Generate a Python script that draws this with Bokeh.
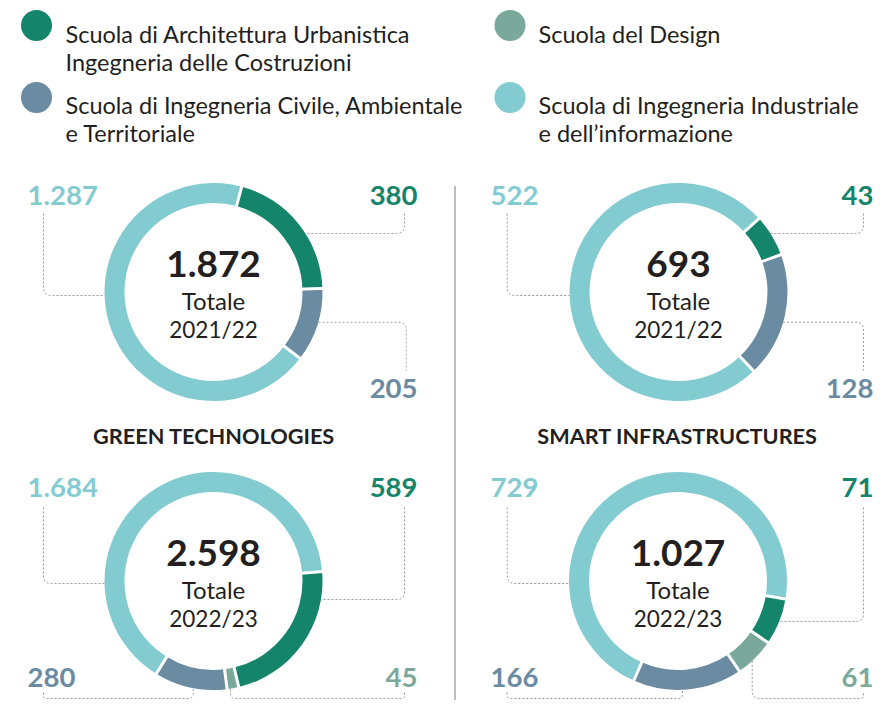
import math
from bokeh.plotting import figure
from bokeh.models import Range1d
from bokeh.core.properties import value
from bokeh.embed import file_html
from bokeh.resources import INLINE

# ---------------- data ----------------
schools = [
    ["Scuola di Architettura Urbanistica", "Ingegneria delle Costruzioni"],
    ["Scuola del Design"],
    ["Scuola di Ingegneria Civile, Ambientale", "e Territoriale"],
    ["Scuola di Ingegneria Industriale", "e dell\u2019informazione"],
]
colors = ["#14846A", "#7AA99C", "#6A8BA1", "#82CBD1"]

programs = ["GREEN TECHNOLOGIES", "SMART INFRASTRUCTURES"]
years = ["2021/22", "2022/23"]
total_label = "Totale"
gt_2122 = [380, 0, 205, 1287]
gt_2223 = [589, 45, 280, 1684]
si_2122 = [43, 0, 128, 522]
si_2223 = [71, 61, 166, 729]

FONT = "Lato"
DARK = "#231F20"
LEAD = "#9A9A9A"

W, H = 874, 700
p = figure(width=W, height=H, output_backend="svg", toolbar_location=None,
           x_range=Range1d(0, W), y_range=Range1d(716 - H, 716),
           min_border=0, outline_line_color=None)
p.axis.visible = False
p.grid.visible = False
p.background_fill_color = "white"
p.border_fill_color = "white"


def Y(py):
    return 716 - py


def fmt(n):
    return f"{n:,}".replace(",", ".")


def rounded(pts, r=8, n=8):
    xs, ys = [pts[0][0]], [pts[0][1]]
    for i in range(1, len(pts) - 1):
        ax, ay = pts[i - 1]
        bx, by = pts[i]
        cx, cy = pts[i + 1]
        la = math.hypot(ax - bx, ay - by)
        lc = math.hypot(cx - bx, cy - by)
        rr = min(r, la / 2, lc / 2)
        p1 = (bx + (ax - bx) / la * rr, by + (ay - by) / la * rr)
        p2 = (bx + (cx - bx) / lc * rr, by + (cy - by) / lc * rr)
        for k in range(n + 1):
            t = k / n
            x = (1 - t) ** 2 * p1[0] + 2 * (1 - t) * t * bx + t ** 2 * p2[0]
            y = (1 - t) ** 2 * p1[1] + 2 * (1 - t) * t * by + t ** 2 * p2[1]
            xs.append(x)
            ys.append(y)
    xs.append(pts[-1][0])
    ys.append(pts[-1][1])
    return xs, [Y(v) for v in ys]


def leader(pts):
    xs, ys = rounded(pts)
    p.line(xs, ys, line_color=LEAD, line_width=1, line_dash="2 2")


def txt(x, py, s, size, color=DARK, bold=False, align="center", baseline="middle"):
    p.text(x=[x], y=[Y(py)], text=[s], text_font=value(FONT),
           text_font_size=f"{size}px", text_color=color,
           text_font_style="bold" if bold else "normal",
           text_align=align, text_baseline=baseline)


R_IN, R_OUT = 89, 109


def donut(cx, cy, vals, start_deg, year):
    total = sum(vals)
    th = start_deg
    bounds = []
    for v, c in zip(vals, colors):
        if v == 0:
            continue
        sweep = v / total * 360.0
        a0 = math.radians(90 - th)
        a1 = math.radians(90 - (th + sweep))
        p.annular_wedge(x=[cx], y=[Y(cy)], inner_radius=R_IN, outer_radius=R_OUT,
                        start_angle=a0, end_angle=a1, direction="clock",
                        fill_color=c, line_color=None)
        bounds.append(th)
        th += sweep
    for b in bounds:
        a = math.radians(90 - b)
        p.segment(x0=[cx + (R_IN - 4) * math.cos(a)], y0=[Y(cy) + (R_IN - 4) * math.sin(a)],
                  x1=[cx + (R_OUT + 4) * math.cos(a)], y1=[Y(cy) + (R_OUT + 4) * math.sin(a)],
                  line_color="white", line_width=3)
    txt(cx, cy - 28, fmt(total), 37, bold=True)
    txt(cx, cy + 8, total_label, 24)
    txt(cx, cy + 37, year, 22.5)


# ---------------- legend ----------------
leg_pos = [(36, 25, 65, 33.5), (509.5, 25, 538, 33.5), (36, 97, 65, 104.5), (509.5, 97, 538, 104.5)]
for (mx, my, tx, ty), lines, c in zip(leg_pos, schools, colors):
    p.scatter(x=[mx], y=[Y(my)], size=31, marker="circle", fill_color=c, line_color=None)
    for k, ln in enumerate(lines):
        txt(tx, ty + 28.3 * k, ln, 23.5, align="left", baseline="middle")

# separator
p.segment(x0=[454.5], y0=[Y(185.5)], x1=[454.5], y1=[Y(716)], line_color="#BDBDBD", line_width=2)

# ---------------- donuts ----------------
donut(213, 291.5, gt_2122, 15, years[0])
donut(678, 291.5, si_2122, 47.6, years[0])
donut(213, 580.5, gt_2223, 85, years[1])
donut(677.5, 580.5, si_2223, 99.5, years[1])

txt(213.5, 435, programs[0], 21.7, bold=True)
txt(677, 435, programs[1], 21.7, bold=True)

LS = 27.5
RX = 873
# labels row 1
txt(27, 195, fmt(gt_2122[3]), LS, colors[3], True, "left")
txt(417, 195, fmt(gt_2122[0]), LS, colors[0], True, "right")
txt(417, 388, fmt(gt_2122[2]), LS, colors[2], True, "right")
txt(490, 195, fmt(si_2122[3]), LS, colors[3], True, "left")
txt(RX, 195, fmt(si_2122[0]), LS, colors[0], True, "right")
txt(RX, 388, fmt(si_2122[2]), LS, colors[2], True, "right")
# labels row 2
txt(27, 487, fmt(gt_2223[3]), LS, colors[3], True, "left")
txt(417, 487, fmt(gt_2223[0]), LS, colors[0], True, "right")
txt(27, 677, fmt(gt_2223[2]), LS, colors[2], True, "left")
txt(417, 677, fmt(gt_2223[1]), LS, colors[1], True, "right")
txt(490, 487, fmt(si_2223[3]), LS, colors[3], True, "left")
txt(RX, 487, fmt(si_2223[0]), LS, colors[0], True, "right")
txt(490, 677, fmt(si_2223[2]), LS, colors[2], True, "left")
txt(RX, 677, fmt(si_2223[1]), LS, colors[1], True, "right")

# leader lines
BOT = 698
TOPB = 692
RL = 863
leader([(43, 213), (43, 295), (104, 295)])
leader([(404, 213), (404, 233), (305, 233)])
leader([(318, 321.7), (405.7, 321.7), (405.7, 370)])
leader([(506.7, 213), (506.7, 295), (569, 295)])
leader([(RL, 213), (RL, 233), (770, 233)])
leader([(782.7, 321.7), (RL, 321.7), (RL, 370)])
leader([(43, 507), (43, 583), (104, 583)])
leader([(404, 507), (404, 599), (320.5, 599)])
leader([(43, TOPB), (43, BOT), (192.7, BOT), (192.7, 687.6)])
leader([(404, TOPB), (404, BOT), (230, BOT), (230, 688)])
leader([(506.7, 507), (506.7, 583), (568.5, 583)])
leader([(RL, 507), (RL, 621), (778.7, 621)])
leader([(506.7, TOPB), (506.7, BOT), (682, BOT), (682, 689.4)])
leader([(751.7, 660.3), (751.7, BOT), (RL, BOT), (RL, TOPB)])

open("out.html", "w").write(file_html(p, INLINE))
